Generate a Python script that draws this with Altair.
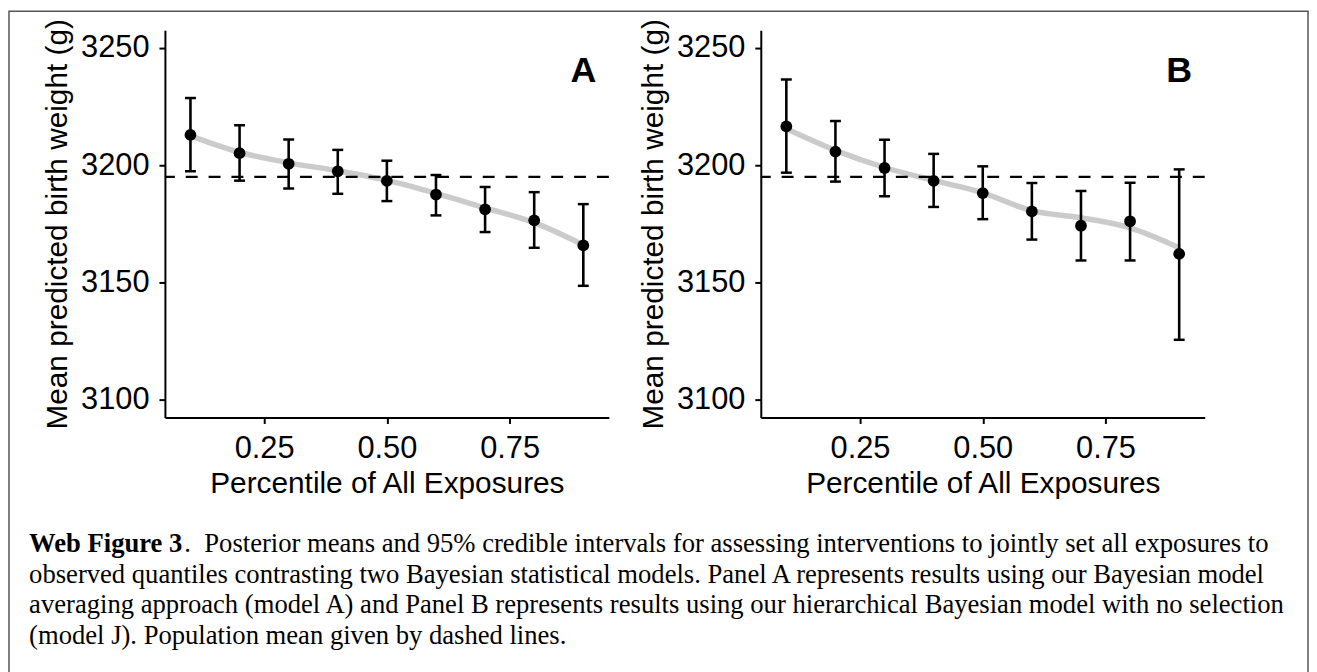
import altair as alt
import pandas as pd

# ---------------- data ----------------
percentiles = [0.1, 0.2, 0.3, 0.4, 0.5, 0.6, 0.7, 0.8, 0.9]

a_mean = [3212.9, 3205.1, 3200.6, 3197.4, 3193.3, 3187.5, 3181.2, 3176.5, 3165.8]
a_lo = [3197.4, 3193.4, 3190.1, 3187.8, 3184.7, 3178.6, 3171.5, 3164.8, 3148.6]
a_hi = [3228.6, 3217.0, 3210.9, 3206.5, 3201.9, 3195.8, 3190.7, 3188.5, 3183.4]
a_smooth = [3212.5, 3205.5, 3201.0, 3197.6, 3193.5, 3188.0, 3181.8, 3175.5, 3166.0]

b_mean = [3216.5, 3205.8, 3198.8, 3193.3, 3188.1, 3180.3, 3174.2, 3176.1, 3162.2]
b_lo = [3196.8, 3193.0, 3186.8, 3182.2, 3177.0, 3168.3, 3159.4, 3159.4, 3125.6]
b_hi = [3236.5, 3218.8, 3210.8, 3204.8, 3199.5, 3192.4, 3189.0, 3192.5, 3198.2]
b_smooth = [3215.5, 3206.3, 3199.0, 3193.5, 3188.2, 3180.6, 3177.6, 3173.3, 3164.8]

population_mean = [3195.0]
panel_labels = ["A", "B"]
label_pos_x = [0.9]
label_pos_y = [3240.0]

y_ticks = [3100, 3150, 3200, 3250]
x_ticks = [0.25, 0.50, 0.75]
x_title = "Percentile of All Exposures"
y_title = "Mean predicted birth weight (g)"

caption_bold = "Web Figure 3"
caption_lines = [
    ".\u00a0 Posterior means and 95% credible intervals for assessing interventions to jointly set all exposures to",
    "observed quantiles contrasting two Bayesian statistical models. Panel A represents results using our Bayesian model",
    "averaging approach (model A) and Panel B represents results using our hierarchical Bayesian model with no selection",
    "(model J). Population mean given by dashed lines.",
]

# ---------------- styling ----------------
SANS = "Liberation Sans"
SERIF = "Liberation Serif"
PW, PH = 447, 390
CAP_SIZE = 26.8

x_scale = alt.Scale(domain=[0.048, 0.952], nice=False, zero=False)
y_scale = alt.Scale(domain=[3092.5, 3257.5], nice=False, zero=False)
x_axis = alt.Axis(values=x_ticks, format=".2f", title=x_title)
y_axis = alt.Axis(values=y_ticks, format="d", title=y_title)


def X(field):
    return alt.X(field, type="quantitative", scale=x_scale, axis=x_axis)


def Y(field):
    return alt.Y(field, type="quantitative", scale=y_scale, axis=y_axis)


def panel(mean, lo, hi, smooth, label, with_caption):
    df = pd.DataFrame({"p": percentiles, "mean": mean, "lo": lo, "hi": hi, "smooth": smooth})
    base = alt.Chart(df)

    smooth_line = base.mark_line(color="#cbcbcb", strokeWidth=5.5, interpolate="monotone").encode(
        x=X("p"), y=Y("smooth")
    )
    bars = base.mark_rule(color="black", strokeWidth=2.6).encode(
        x=X("p"), y=Y("lo"), y2="hi"
    )
    cap_lo = base.mark_tick(orient="horizontal", color="black", size=11, thickness=2.5, opacity=1).encode(
        x=X("p"), y=Y("lo")
    )
    cap_hi = base.mark_tick(orient="horizontal", color="black", size=11, thickness=2.5, opacity=1).encode(
        x=X("p"), y=Y("hi")
    )
    pts = base.mark_circle(color="black", size=140, opacity=1).encode(x=X("p"), y=Y("mean"))
    hline = alt.Chart(pd.DataFrame({"pm": population_mean})).mark_rule(
        color="black", strokeWidth=2.2, strokeDash=[12, 11]
    ).encode(y=Y("pm"))
    lab = alt.Chart(
        pd.DataFrame({"lx": label_pos_x, "ly": label_pos_y, "t": [label]})
    ).mark_text(font=SANS, fontSize=36, fontWeight="bold", color="black", align="center", baseline="middle").encode(
        x=X("lx"), y=Y("ly"), text="t:N"
    )
    layers = [smooth_line, hline, bars, cap_lo, cap_hi, pts, lab]

    if with_caption:
        # frame around the whole figure (drawn outside this panel's view)
        frame = alt.Chart(pd.DataFrame({"k": [0]})).mark_rect(
            fillOpacity=0, stroke="#555555", strokeWidth=1.5
        ).encode(x=alt.value(-157), x2=alt.value(1151), y=alt.value(-19), y2=alt.value(655))
        layers.append(frame)
        cx = -136.75
        bold = alt.Chart(pd.DataFrame({"t": [caption_bold]})).mark_text(
            font=SERIF, fontSize=CAP_SIZE, fontWeight="bold", color="black", align="left", baseline="alphabetic"
        ).encode(x=alt.value(cx), y=alt.value(525.25), text="t:N")
        layers.append(bold)
        bold_w = 5.833 * CAP_SIZE
        ys = [525.25, 556.25, 587.25, 618.25]
        for i, line in enumerate(caption_lines):
            xx = cx + bold_w if i == 0 else cx
            t = alt.Chart(pd.DataFrame({"t": [line]})).mark_text(
                font=SERIF, fontSize=CAP_SIZE, color="black", align="left", baseline="alphabetic"
            ).encode(x=alt.value(xx), y=alt.value(ys[i]), text="t:N")
            layers.append(t)

    return alt.layer(*layers).properties(width=PW, height=PH)


chart_a = panel(a_mean, a_lo, a_hi, a_smooth, panel_labels[0], True)
chart_b = panel(b_mean, b_lo, b_hi, b_smooth, panel_labels[1], False)

chart = (
    alt.hconcat(chart_a, chart_b, spacing=153, bounds="flush")
    .properties(padding=0, background="white")
    .configure_view(stroke=None)
    .configure_axis(
        grid=False,
        domainColor="black",
        domainWidth=2,
        tickColor="black",
        tickWidth=2,
        tickSize=6,
        labelColor="black",
        titleColor="black",
        labelFont=SANS,
        titleFont=SANS,
        labelFontSize=31,
        titleFontSize=30,
        titleFontWeight="normal",
        labelPadding=10,
    )
    .configure_axisY(titlePadding=8)
    .configure_axisX(titlePadding=6)
)

chart.save("out.html", embed_options={"renderer": "svg", "actions": False})
